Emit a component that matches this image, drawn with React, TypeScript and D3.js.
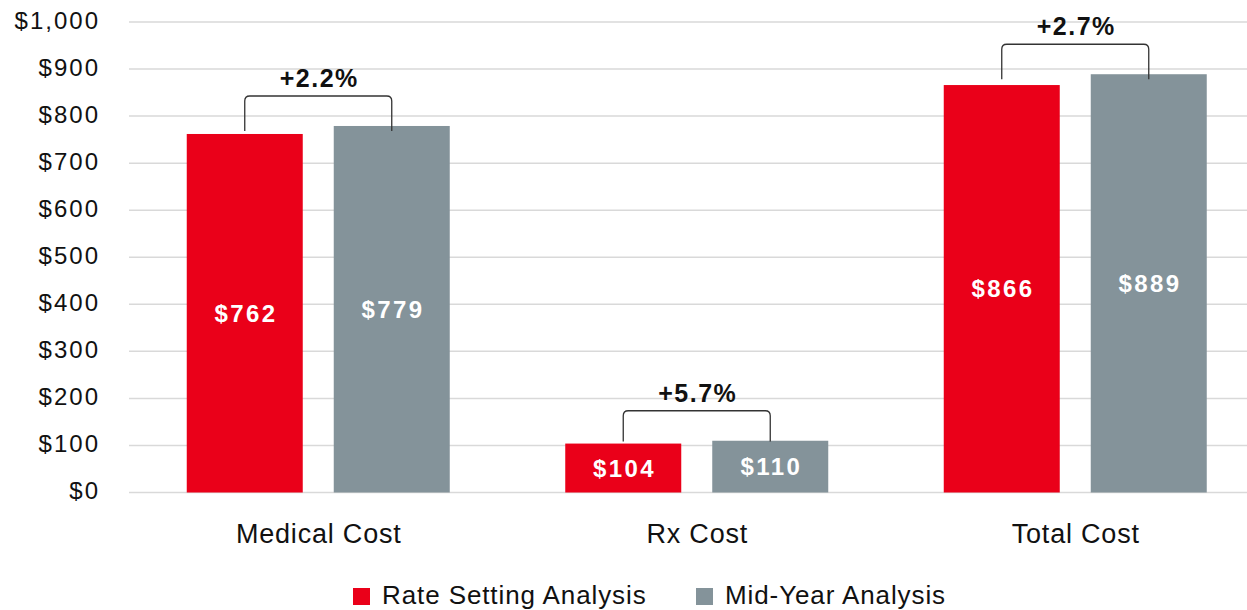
import React from 'react';
import * as d3 from 'd3';

const categories = ['Medical Cost', 'Rx Cost', 'Total Cost'];
const seriesNames = ['Rate Setting Analysis', 'Mid-Year Analysis'];
const rateSetting = [762, 104, 866];
const midYear = [779, 110, 889];
const changeLabels = ['+2.2%', '+5.7%', '+2.7%'];
const yTicks = [0, 100, 200, 300, 400, 500, 600, 700, 800, 900, 1000];

const colors = ['#EA0019', '#84939A'];
const font = '"Liberation Sans", Arial, Helvetica, sans-serif';

export default function App() {
  const width = 1247;
  const height = 610;

  // plot area
  const left = 129;
  const y = d3.scaleLinear().domain([0, 1000]).range([492.5, 22]);
  const x = d3.scaleBand().domain(categories).range([left, left + 3 * 378.5]).paddingInner(0).paddingOuter(0);
  const inner = d3.scaleBand().domain(seriesNames).range([0, 263]).paddingInner(31 / 147);

  const money = (v: number) => '$' + d3.format(',')(v);

  return (
    <svg
      width={width}
      height={height}
      style={{ position: 'absolute', left: 0, top: 0, background: '#fff' }}
      fontFamily={font}
    >
      {/* gridlines + y labels */}
      {yTicks.map((t) => (
        <g key={t}>
          <line x1={left} x2={width} y1={y(t)} y2={y(t)} stroke="#D9D9D9" strokeWidth={1.5} />
          <text
            x={100}
            y={y(t)}
            dy="0.28em"
            textAnchor="end"
            fontSize={24}
            letterSpacing={2}
            fill="#111"
          >
            {money(t)}
          </text>
        </g>
      ))}

      {categories.map((c, i) => {
        const cx = x(c)! + x.bandwidth() / 2;
        const x0 = cx - 131.5;
        const vals = [rateSetting[i], midYear[i]];
        const centers = seriesNames.map((s) => x0 + inner(s)! + inner.bandwidth() / 2);
        const topMax = y(Math.max(...vals));
        const legEnd = Math.min(topMax + 5, y(Math.min(...vals)) - 2);
        const bTop = topMax - 30;
        const r = 5;
        const bracket = d3.path();
        bracket.moveTo(centers[0], legEnd);
        bracket.lineTo(centers[0], bTop + r);
        bracket.quadraticCurveTo(centers[0], bTop, centers[0] + r, bTop);
        bracket.lineTo(centers[1] - r, bTop);
        bracket.quadraticCurveTo(centers[1], bTop, centers[1], bTop + r);
        bracket.lineTo(centers[1], legEnd);
        return (
          <g key={c}>
            {vals.map((v, j) => {
              const bx = x0 + inner(seriesNames[j])!;
              return (
                <g key={j}>
                  <rect
                    x={bx}
                    y={y(v)}
                    width={inner.bandwidth()}
                    height={y(0) - y(v)}
                    fill={colors[j]}
                  />
                  <text
                    x={bx + inner.bandwidth() / 2 + 1.2}
                    y={(y(v) + y(0)) / 2}
                    dy="0.36em"
                    textAnchor="middle"
                    fontSize={24}
                    fontWeight="bold"
                    letterSpacing={2.4}
                    fill="#fff"
                  >
                    {money(v)}
                  </text>
                </g>
              );
            })}
            <path d={bracket.toString()} fill="none" stroke="#333" strokeWidth={1.3} />
            <text
              x={(centers[0] + centers[1]) / 2 + 1}
              y={bTop - 9}
              textAnchor="middle"
              fontSize={25}
              fontWeight="bold"
              letterSpacing={1.5}
              fill="#111"
            >
              {changeLabels[i]}
            </text>
            <text
              x={cx + 0.5}
              y={543}
              textAnchor="middle"
              fontSize={27}
              letterSpacing={0.8}
              fill="#111"
            >
              {c}
            </text>
          </g>
        );
      })}

      {/* legend */}
      {seriesNames.map((s, j) => {
        const lx = j === 0 ? 353 : 696;
        return (
          <g key={s}>
            <rect x={lx} y={588} width={17} height={17} fill={colors[j]} />
            <text x={lx + 29} y={604} fontSize={26} letterSpacing={0.9} fill="#111">
              {s}
            </text>
          </g>
        );
      })}
    </svg>
  );
}
